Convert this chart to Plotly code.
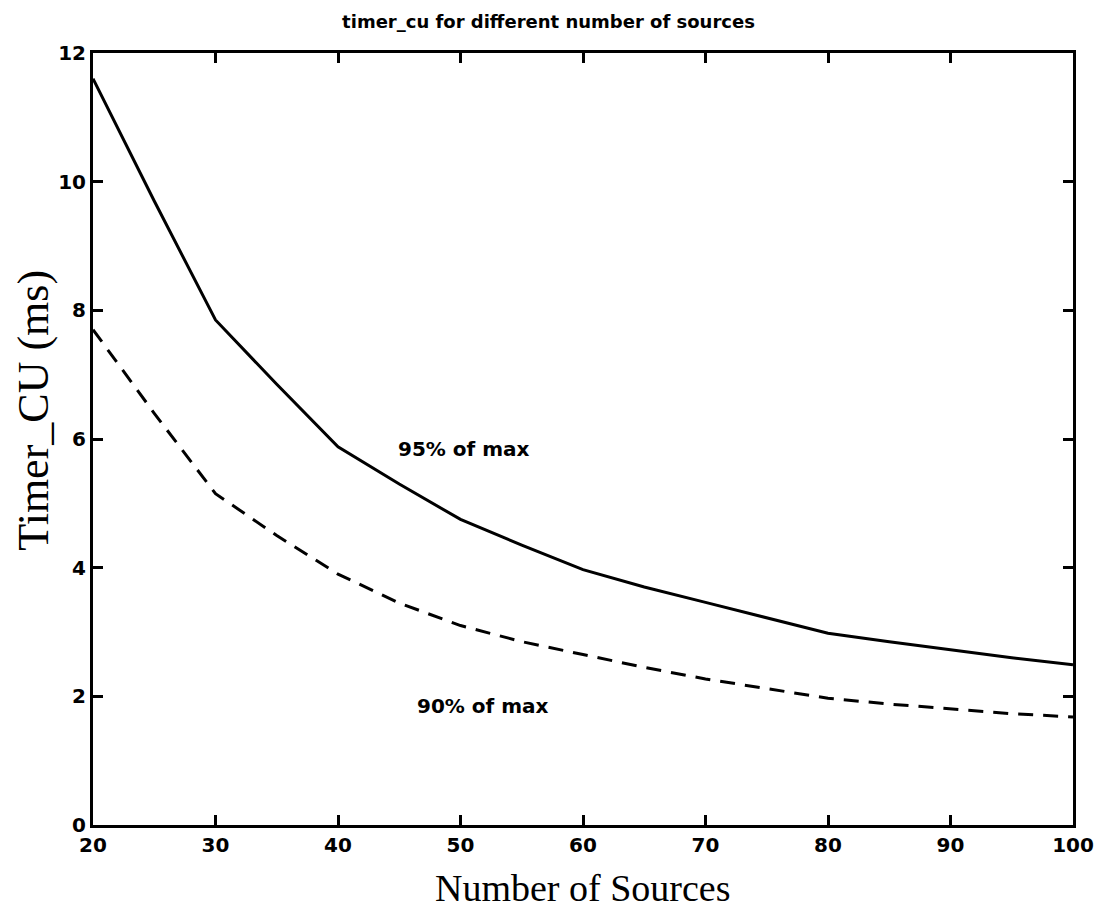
import plotly.graph_objects as go

sources = [20, 25, 30, 35, 40, 45, 50, 55, 60, 65, 70, 75, 80, 85, 90, 95, 100]
timer_95 = [11.6, 9.7, 7.85, 6.85, 5.88, 5.3, 4.75, 4.35, 3.97, 3.7, 3.46, 3.22, 2.98, 2.85, 2.72, 2.6, 2.49]
timer_90 = [7.7, 6.4, 5.15, 4.5, 3.9, 3.45, 3.1, 2.85, 2.65, 2.45, 2.27, 2.12, 1.97, 1.88, 1.8, 1.73, 1.68]

x_ticks = [20, 30, 40, 50, 60, 70, 80, 90, 100]
y_ticks = [0, 2, 4, 6, 8, 10, 12]

fig = go.Figure()
fig.add_trace(go.Scatter(x=sources, y=timer_95, mode="lines",
                         line=dict(color="black", width=3), showlegend=False))
fig.add_trace(go.Scatter(x=sources, y=timer_90, mode="lines",
                         line=dict(color="black", width=3, dash="15px,10px"), showlegend=False))

ann_font = dict(family="DejaVu Sans", size=20, color="black", weight="bold")
fig.add_annotation(x=50.3, y=5.85, text="95% of max", showarrow=False, font=ann_font)
fig.add_annotation(x=51.8, y=1.85, text="90% of max", showarrow=False, font=ann_font)

# axis titles as annotations for precise placement
fig.add_annotation(xref="paper", yref="paper", x=0.499, y=-0.082,
                   xanchor="center", yanchor="middle", showarrow=False,
                   text="Number of Sources",
                   font=dict(family="Liberation Serif", size=38, color="black"))
fig.add_annotation(xref="paper", yref="paper", x=-0.061, y=0.537,
                   xanchor="center", yanchor="middle", showarrow=False, textangle=-90,
                   text="Timer_CU (ms)",
                   font=dict(family="Liberation Serif", size=44, color="black"))

axis_common = dict(showline=True, linecolor="black", linewidth=3, mirror="ticks",
                   ticks="inside", ticklen=10, tickwidth=3, tickcolor="black",
                   showgrid=False, zeroline=False, automargin=False,
                   ticklabeloverflow="allow",
                   tickfont=dict(family="DejaVu Sans", size=20, color="black", weight="bold"))

fig.update_xaxes(range=[20, 100], tickvals=x_ticks, **axis_common)
fig.update_yaxes(range=[0, 12], tickvals=y_ticks, **axis_common)

fig.update_layout(
    width=1097, height=915,
    margin=dict(l=93, r=24, t=53, b=90),
    paper_bgcolor="white", plot_bgcolor="white",
    title=dict(text="timer_cu for different number of sources", x=0.5, xanchor="center",
               y=0.976, yanchor="middle",
               font=dict(family="DejaVu Sans", size=18, color="black", weight="bold")),
)

fig.write_html("out.html",
               config={"displayModeBar": False},
               post_script="document.body.style.margin='0';document.body.style.overflow='hidden';")
